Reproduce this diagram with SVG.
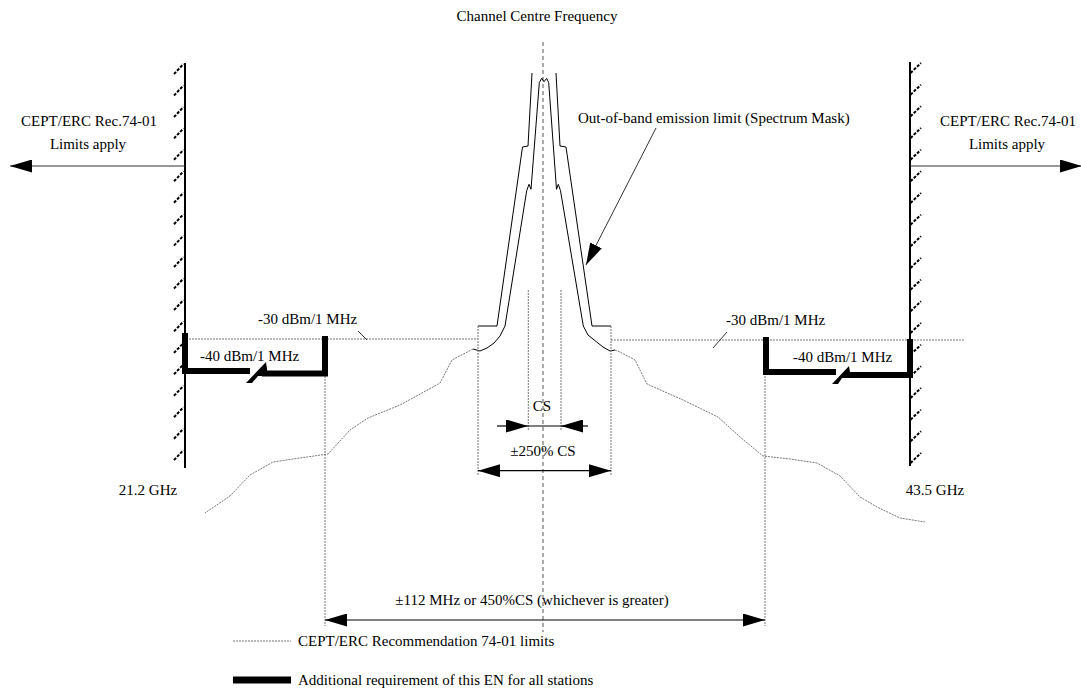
<svg xmlns="http://www.w3.org/2000/svg" width="1081" height="689" viewBox="0 0 1081 689">
<style>
text{font-family:"Liberation Serif","Times New Roman",serif;font-size:15px;fill:#000}
.mask{fill:none;stroke:#000;stroke-width:1}
.cept{fill:none;stroke:#777;stroke-width:1;stroke-dasharray:2 1}
.vdot{fill:none;stroke:#777;stroke-width:1;stroke-dasharray:2 1}
.axis{fill:none;stroke:#555;stroke-width:1;stroke-dasharray:4 3}
.thick{fill:none;stroke:#000;stroke-width:6}
.wall{fill:none;stroke:#000;stroke-width:2}
.hatch{fill:none;stroke:#000;stroke-width:2;stroke-dasharray:3 1.5}
.dim{fill:none;stroke:#000;stroke-width:1.2}
.lead{fill:none;stroke:#333;stroke-width:1}
</style>
<defs>
<marker id="ah" viewBox="0 0 22 13" refX="22" refY="6.5" markerWidth="22" markerHeight="13" markerUnits="userSpaceOnUse" orient="auto"><path d="M0,0 L22,6.5 L0,13 z" fill="#000"/></marker>
</defs>
<rect width="1081" height="689" fill="#fff"/>

<g id="centre-axis">
<path class="axis" d="M543,42 V632"/>
<text x="537" y="21" text-anchor="middle">Channel Centre Frequency</text>
</g>

<g id="spectrum-mask">
<path class="mask" d="M478,326 H497 L522.5,147 L528,146 L532,73"/>
<path class="mask" d="M611,326 H592 L566,147 L560,146 L556,73"/>
<path class="mask" d="M473,349 L480,351 L487,348 L494,343 L500,336 L505,326 L526.7,190.7 L529,184.3 L531,189.3 L539.3,82.7 L541.7,78.3 L544,81.7 L546.7,78.3 L548.7,82.7 L556.5,189.3 L558.3,184.3 L560.5,190.7 L583.3,326 L588,335 L596.7,342 L603,347 L610,351 L615,350"/>
<text x="578" y="123">Out-of-band emission limit (Spectrum Mask)</text>
</g>

<g id="cept-limits">
<path class="cept" d="M186,339 H478"/>
<path class="cept" d="M611,340 H965"/>
<path class="cept" d="M473,349 L452,360 L440,383 L433,387 L400,405 L368,418 L350,430 L328,454 L300,458 L273,462 L250,475 L230,496 L205,513"/>
<path class="cept" d="M615,350 L620,352 L635,360 L647,384 L683,400 L718,417 L740,437 L763,456 L790,459 L817,463 L840,476 L860,497 L877,507 L900,518 L925,522"/>
<path class="lead" d="M358,331 L367,340"/>
<path class="lead" d="M713,348 L727,332"/>
<text x="258" y="324">-30 dBm/1 MHz</text>
<text x="726" y="325">-30 dBm/1 MHz</text>
</g>

<g id="guide-lines">
<path class="vdot" d="M478,326 V476"/>
<path class="vdot" d="M611,326 V476"/>
<path class="vdot" d="M528.3,290 V430"/>
<path class="vdot" d="M561,290 V430"/>
<path class="vdot" d="M325,376 V626"/>
<path class="vdot" d="M765,376 V626"/>
</g>

<g id="left-wall">
<path class="wall" d="M185,63 V468"/>
<path class="hatch" d="M174,74 L183.5,64 M174,95.5 L183.5,85.5 M174,117 L183.5,107 M174,138.4 L183.5,128.4 M174,159.8 L183.5,149.8 M174,181.3 L183.5,171.3 M174,202.7 L183.5,192.7 M174,224.2 L183.5,214.2 M174,245.6 L183.5,235.6 M174,267 L183.5,257 M174,288.5 L183.5,278.5 M174,310 L183.5,300 M174,331.4 L183.5,321.4 M174,352.9 L183.5,342.9 M174,374.3 L183.5,364.3 M174,395.8 L183.5,385.8 M174,417.2 L183.5,407.2 M174,438.7 L183.5,428.7 M174,460.1 L183.5,450.1"/>
<text x="89" y="126" text-anchor="middle">CEPT/ERC Rec.74-01</text>
<text x="88" y="149" text-anchor="middle">Limits apply</text>
<text x="148" y="495" text-anchor="middle">21.2 GHz</text>
</g>

<g id="right-wall">
<path class="wall" d="M910,62 V466"/>
<path class="hatch" d="M910.5,73 L921,63 M910.5,94.7 L921,84.7 M910.5,116.3 L921,106.3 M910.5,138 L921,128 M910.5,159.7 L921,149.7 M910.5,181.3 L921,171.3 M910.5,203 L921,193 M910.5,224.7 L921,214.7 M910.5,246.3 L921,236.3 M910.5,268 L921,258 M910.5,289.7 L921,279.7 M910.5,311.3 L921,301.3 M910.5,333 L921,323 M910.5,354.7 L921,344.7 M910.5,376.3 L921,366.3 M910.5,398 L921,388 M910.5,419.7 L921,409.7 M910.5,441.3 L921,431.3 M910.5,463 L921,453"/>
<text x="1008" y="126" text-anchor="middle">CEPT/ERC Rec.74-01</text>
<text x="1007" y="149" text-anchor="middle">Limits apply</text>
<text x="935" y="495" text-anchor="middle">43.5 GHz</text>
</g>

<g id="left-requirement">
<path class="thick" d="M185,333 V371 H250 M262,373.5 H325 V336"/>
<path d="M246,383 L266,362 L268,376 L258,376 L252,383 z" fill="#000"/>
<text x="200" y="361">-40 dBm/1 MHz</text>
</g>

<g id="right-requirement">
<path class="thick" d="M766,337 V372 H836 M847,375 H910 V339"/>
<path d="M832,384 L849,366 L851,378 L842,378 L838,384 z" fill="#000"/>
<text x="793" y="362">-40 dBm/1 MHz</text>
</g>

<g id="connectors">
<path class="lead" d="M185,166 H10" marker-end="url(#ah)"/>
<path class="lead" d="M910,166 H1082" marker-end="url(#ah)"/>
<path class="lead" d="M656,128 L586,265" marker-end="url(#ah)"/>
<path class="dim" d="M497,426 H528" marker-end="url(#ah)"/>
<path class="dim" d="M588,426 H561" marker-end="url(#ah)"/>
<path class="dim" d="M528,426 H561"/>
<path class="dim" d="M544,470.7 H478" marker-end="url(#ah)"/>
<path class="dim" d="M544,470.7 H611" marker-end="url(#ah)"/>
<path class="dim" d="M545,620 H325" marker-end="url(#ah)"/>
<path class="dim" d="M545,620 H765" marker-end="url(#ah)"/>
</g>

<g id="dimension-labels">
<text x="542" y="411" text-anchor="middle">CS</text>
<text x="543" y="456" text-anchor="middle">±250% CS</text>
<text x="532" y="605" text-anchor="middle">±112 MHz or 450%CS (whichever is greater)</text>
</g>

<g id="legend">
<path class="cept" d="M233,641 H291"/>
<text x="298" y="646">CEPT/ERC Recommendation 74-01 limits</text>
<path fill="none" stroke="#000" stroke-width="7" d="M233,680 H291"/>
<text x="298" y="685">Additional requirement of this EN for all stations</text>
</g>
</svg>
